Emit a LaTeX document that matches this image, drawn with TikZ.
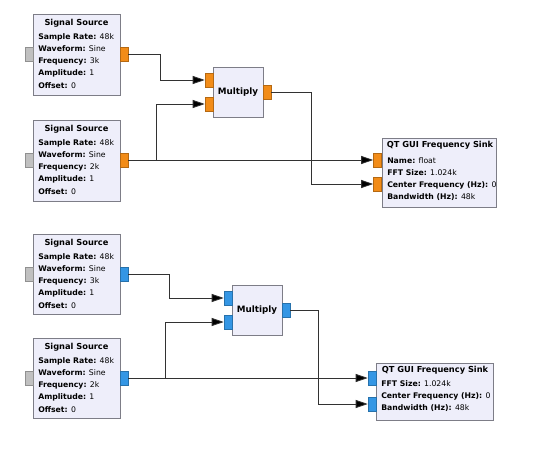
\documentclass[tikz,border=0pt]{standalone}
\usepackage{fontspec}
\setmainfont{DejaVu Sans}
\usetikzlibrary{arrows.meta}

\definecolor{blkfill}{RGB}{238,238,250}
\definecolor{blkline}{RGB}{125,125,135}
\definecolor{fltport}{RGB}{242,140,24}
\definecolor{cpxport}{RGB}{52,150,228}
\definecolor{offport}{RGB}{192,192,192}
\definecolor{wirecol}{RGB}{50,50,50}

\begin{document}
\begin{tikzpicture}[x=0.75pt,y=0.75pt,yscale=-1,xscale=1,
  blk/.style={draw=blkline, fill=blkfill, line width=0.6pt, anchor=north west, inner sep=0pt},
  port/.style={draw=#1!75!black, fill=#1, line width=0.4pt, minimum width=6pt, minimum height=10.5pt, inner sep=0pt},
  ttl/.style={font=\fontsize{6.2}{9.2}\selectfont\bfseries, inner sep=0pt},
  body/.style={font=\fontsize{5.8}{9.2}\selectfont, align=left, anchor=north west, inner sep=0pt},
  wire/.style={draw=wirecol, line width=0.6pt, -{Triangle[length=9pt,width=6pt,fill=black]}}]
\useasboundingbox (0,0) rectangle (540,464);

%Blocks: float
\node[blk, minimum width=65.25pt, minimum height=60.75pt] (s1) at (33,14) {};
\node[blk, minimum width=65.25pt, minimum height=60.75pt] (s2) at (33,120) {};
\node[blk, minimum width=37.5pt, minimum height=37.5pt] (m1) at (213,67) {};
\node[blk, minimum width=85.5pt, minimum height=51.75pt] (k1) at (382,138) {};
%Blocks: complex
\node[blk, minimum width=65.25pt, minimum height=60pt] (s3) at (33,234) {};
\node[blk, minimum width=65.25pt, minimum height=60pt] (s4) at (33,338) {};
\node[blk, minimum width=37.5pt, minimum height=37.5pt] (m2) at (232,285) {};
\node[blk, minimum width=87.75pt, minimum height=42.75pt] (k2) at (376,363) {};

%Ports
\node[port=offport] (s1i) at (29,54) {};
\node[port=fltport] (s1o) at (124,54) {};
\node[port=offport] (s2i) at (29,160) {};
\node[port=fltport] (s2o) at (124,160) {};
\node[port=fltport] (m1a) at (209,80) {};
\node[port=fltport] (m1b) at (209,104) {};
\node[port=fltport] (m1o) at (267,92) {};
\node[port=fltport] (k1a) at (377.5,160) {};
\node[port=fltport] (k1b) at (377.5,184) {};
\node[port=offport] (s3i) at (29,274) {};
\node[port=cpxport] (s3o) at (124,274) {};
\node[port=offport] (s4i) at (29,378) {};
\node[port=cpxport] (s4o) at (124,378) {};
\node[port=cpxport] (m2a) at (228,298) {};
\node[port=cpxport] (m2b) at (228,322) {};
\node[port=cpxport] (m2o) at (286,310) {};
\node[port=cpxport] (k2a) at (372,378) {};
\node[port=cpxport] (k2b) at (372,404) {};

% Text Node
\node[ttl] (s1t) at (76.5,23) {Signal Source};
\node[body] (s1txt) at (38,33) {\textbf{Sample Rate:} 48k\\\textbf{Waveform:} Sine\\\textbf{Frequency:} 3k\\\textbf{Amplitude:} 1\\\textbf{Offset:} 0};
% Text Node
\node[ttl] (s2t) at (76.5,129) {Signal Source};
\node[body] (s2txt) at (38,139) {\textbf{Sample Rate:} 48k\\\textbf{Waveform:} Sine\\\textbf{Frequency:} 2k\\\textbf{Amplitude:} 1\\\textbf{Offset:} 0};
% Text Node
\node[ttl, font=\fontsize{6.6}{9}\selectfont\bfseries] (m1t) at (238,92) {Multiply};
% Text Node
\node[ttl] (k1t) at (440,145) {QT GUI Frequency Sink};
\node[body] (k1txt) at (387,157) {\textbf{Name:} float\\\textbf{FFT Size:} 1.024k\\\textbf{Center Frequency (Hz):} 0\\\textbf{Bandwidth (Hz):} 48k};
% Text Node
\node[ttl] (s3t) at (76.5,243) {Signal Source};
\node[body] (s3txt) at (38,253) {\textbf{Sample Rate:} 48k\\\textbf{Waveform:} Sine\\\textbf{Frequency:} 3k\\\textbf{Amplitude:} 1\\\textbf{Offset:} 0};
% Text Node
\node[ttl] (s4t) at (76.5,347) {Signal Source};
\node[body] (s4txt) at (38,357) {\textbf{Sample Rate:} 48k\\\textbf{Waveform:} Sine\\\textbf{Frequency:} 2k\\\textbf{Amplitude:} 1\\\textbf{Offset:} 0};
% Text Node
\node[ttl, font=\fontsize{6.6}{9}\selectfont\bfseries] (m2t) at (257,310) {Multiply};
% Text Node
\node[ttl] (k2t) at (435,370) {QT GUI Frequency Sink};
\node[body] (k2txt) at (381,380) {\textbf{FFT Size:} 1.024k\\\textbf{Center Frequency (Hz):} 0\\\textbf{Bandwidth (Hz):} 48k};

%Connections
\draw[wire] (s1o.east) -- ++(32,0) |- (m1a.west);
\draw[wire] (s2o.east) -- ++(28,0) |- (m1b.west);
\draw[wire] (s2o.east) -- (k1a.west);
\draw[wire] (m1o.east) -- ++(40,0) |- (k1b.west);
\draw[wire] (s3o.east) -- ++(41,0) |- (m2a.west);
\draw[wire] (s4o.east) -- ++(37,0) |- (m2b.west);
\draw[wire] (s4o.east) -- (k2a.west);
\draw[wire] (m2o.east) -- ++(28,0) |- (k2b.west);

\end{tikzpicture}
\end{document}
